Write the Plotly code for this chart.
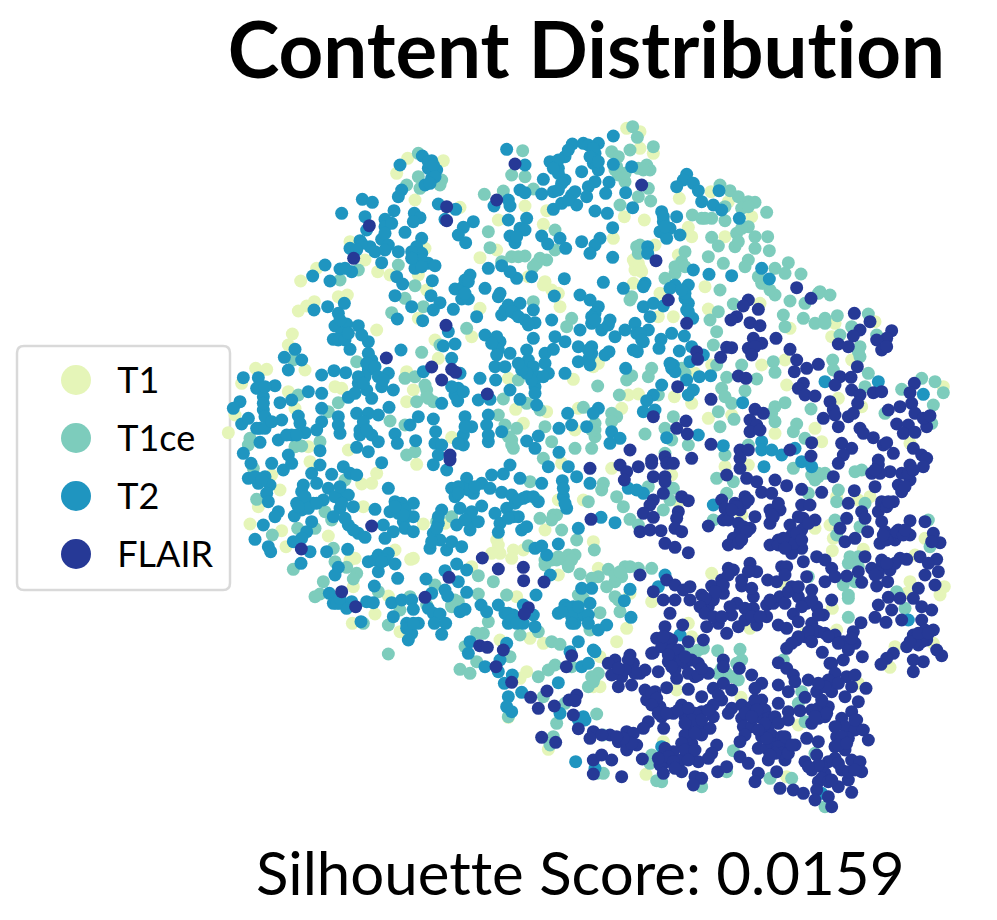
import plotly.graph_objects as go

# Embedding points in four tiles (units: 1/3 px inside each tile)
TILES = {"nw": (225, 120), "ne": (585, 120), "sw": (225, 460), "se": (585, 460)}

t1_nw = [(548,115),(655,122),(515,160),(570,240),(705,262),(900,258),(965,272),(955,313),(820,300),(375,365),(275,445),(227,483),(458,455),(495,465),(420,420),(580,465),(600,385),(765,413),(815,390),(910,470),(955,495),(1000,520),(1005,560),(340,530),(367,525),(268,545),(220,573),(245,558),(455,630),(202,642),(190,675),(240,750),(125,748),(92,745),(50,790),(630,660),(545,755),(565,810),(545,845),(330,800),(350,805),(190,815),(210,865),(30,885),(10,938),(250,980),(370,990),(680,952),(872,868),(965,875),(850,775),(895,910),(1045,778),(1060,865),(1050,930),(740,650),(765,565),(580,595),(605,510),(640,715),(960,485),(980,510)]
t1_ne = [(125,25),(165,35),(165,85),(205,100),(118,290),(178,300),(283,235),(310,322),(320,350),(420,350),(85,355),(378,215),(430,245),(500,290),(210,375),(160,430),(150,450),(280,405),(360,500),(145,490),(225,520),(370,567),(525,550),(265,590),(220,590),(600,720),(605,795),(130,825),(160,822),(268,830),(320,850),(110,865),(370,895),(330,760),(440,885),(740,650),(750,610),(870,605),(800,720),(830,860),(760,835),(690,925),(710,965),(570,940),(615,625),(380,735),(1075,800),(975,970),(25,740),(40,730),(530,735),(150,430),(165,445),(170,455),(145,420)]
t1_sw = [(75,192),(100,140),(165,90),(170,212),(183,260),(310,228),(375,300),(385,380),(490,408),(450,462),(382,490),(525,515),(557,298),(565,295),(595,192),(415,140),(440,70),(455,40),(410,72),(255,5),(575,13),(820,255),(865,270),(860,295),(825,280),(800,280),(915,535),(955,550),(905,635),(885,655),(850,772),(970,868),(825,540),(1000,120),(1010,10),(960,210),(1000,345),(1075,120),(845,405),(875,410),(140,45),(510,270),(815,240),(660,190),(390,295),(740,320),(895,270)]
t1_se = [(490,15),(420,20),(80,25),(260,45),(25,245),(40,325),(45,590),(45,680),(95,545),(135,400),(200,425),(125,505),(310,490),(320,530),(380,340),(275,690),(468,712),(640,795),(235,845),(183,943),(605,950),(495,505),(660,520),(755,510),(735,195),(690,205),(745,235),(742,272),(835,268),(990,285),(1020,235),(975,365),(1078,380),(1065,405),(965,400),(930,560),(1045,550),(915,622),(820,670),(742,445),(855,110),(820,120),(755,110),(470,165),(595,370),(280,125),(25,680)]

t1ce_nw = [(580,100),(893,92),(860,165),(900,170),(650,180),(580,170),(545,195),(585,205),(645,195),(778,223),(835,213),(925,207),(790,335),(795,383),(900,408),(860,410),(830,425),(965,420),(935,430),(990,330),(990,390),(520,435),(570,497),(345,480),(400,450),(540,535),(500,578),(595,560),(725,625),(925,545),(1040,595),(1025,620),(590,697),(395,725),(540,775),(570,770),(605,810),(575,845),(625,845),(610,835),(220,825),(340,848),(310,875),(75,955),(70,975),(210,980),(230,978),(285,965),(495,903),(540,915),(545,1005),(570,995),(820,885),(840,915),(860,960),(865,985),(875,925),(960,920),(980,965),(1050,985),(1075,862),(880,780),(835,837),(905,850),(945,870),(955,1015),(205,720),(645,675),(860,975),(850,950),(605,830),(600,795),(945,415),(925,440),(880,410)]
t1ce_ne = [(143,20),(157,52),(80,95),(205,80),(135,90),(100,110),(185,135),(195,150),(100,165),(120,185),(190,205),(197,243),(105,255),(160,230),(405,195),(435,212),(460,230),(490,245),(510,247),(470,265),(545,277),(322,285),(350,295),(380,295),(420,302),(490,320),(455,340),(510,350),(548,350),(450,380),(380,352),(400,378),(370,410),(415,430),(510,385),(490,420),(553,392),(570,445),(610,428),(600,460),(648,462),(520,470),(540,490),(570,525),(615,543),(705,515),(735,525),(660,550),(757,587),(655,595),(690,610),(720,595),(595,585),(600,620),(850,582),(765,645),(875,645),(825,680),(825,710),(743,720),(745,750),(850,760),(565,725),(570,757),(470,735),(515,777),(425,772),(410,805),(440,850),(480,812),(600,848),(570,860),(570,905),(635,912),(625,935),(400,575),(375,600),(395,635),(385,675),(445,552),(160,400),(155,380),(165,375),(300,395),(290,425),(270,460),(240,475),(405,510),(140,530),(135,540),(395,735),(200,745),(190,770),(125,780),(140,767),(38,798),(103,825),(220,825),(290,745),(300,760),(400,875),(405,920),(447,898),(1010,775),(1050,785),(1075,818),(950,808),(1045,855),(1040,910),(900,880),(840,800),(678,867),(660,955),(80,880),(95,890),(30,910),(30,950),(180,942),(265,890),(240,925),(260,960),(310,975),(420,1005),(490,975),(240,1000),(20,985),(800,620),(270,440),(300,440),(480,440),(555,510),(530,490),(160,145),(175,150),(120,160),(90,150),(95,140),(460,365),(470,325),(820,695),(720,610),(700,520),(420,260),(490,260),(360,295),(420,830),(560,880),(30,930),(20,930),(80,905)]
t1ce_sw = [(85,25),(95,118),(205,328),(295,365),(285,402),(395,340),(385,357),(365,322),(330,305),(218,205),(142,225),(270,205),(325,265),(415,490),(490,495),(490,582),(460,395),(525,450),(555,410),(605,435),(630,375),(680,440),(690,420),(760,347),(805,365),(760,402),(845,405),(790,485),(755,520),(775,520),(885,525),(940,515),(980,545),(1005,553),(910,257),(995,300),(1020,300),(960,315),(1050,285),(985,165),(945,175),(1010,210),(1055,240),(1065,342),(1060,405),(1075,415),(705,628),(735,640),(755,605),(855,590),(720,560),(940,650),(970,630),(990,615),(1040,620),(995,790),(985,830),(975,855),(850,770),(955,710),(1020,730),(680,170),(635,185),(360,60),(915,65),(935,120),(680,435),(270,410),(300,155),(320,180),(1030,285),(1000,290),(1040,300),(980,300),(1030,320),(960,300),(995,165),(980,180),(700,425),(690,440)]
t1ce_se = [(625,25),(680,45),(700,50),(720,40),(810,35),(830,30),(760,90),(670,100),(55,70),(50,90),(115,140),(95,110),(190,80),(265,85),(255,120),(235,150),(395,55),(445,65),(425,100),(385,180),(135,178),(160,195),(28,270),(10,125),(755,125),(840,130),(750,180),(755,225),(825,200),(795,290),(790,310),(820,290),(775,375),(810,365),(790,405),(790,415),(790,472),(935,395),(960,445),(1035,260),(1030,180),(70,328),(120,320),(135,320),(160,325),(200,325),(110,350),(90,365),(65,380),(40,350),(20,355),(90,410),(100,420),(105,455),(45,458),(15,510),(40,640),(20,650),(10,680),(320,575),(355,565),(398,572),(465,568),(470,600),(455,610),(400,640),(425,640),(460,660),(280,580),(35,762),(55,825),(35,940),(55,940),(200,885),(195,910),(215,962),(230,965),(350,980),(445,872),(425,935),(555,955),(620,955),(640,730),(660,785),(690,880),(720,1040),(650,695),(820,320),(595,600),(670,350),(940,405),(90,345),(105,335),(700,40),(690,60),(340,570),(330,580),(300,575),(410,625),(440,650),(30,650),(25,665)]

t2_nw = [(845,88),(592,108),(620,122),(525,135),(610,145),(635,150),(620,175),(600,195),(530,210),(520,230),(412,238),(442,247),(507,272),(420,290),(480,298),(568,280),(585,293),(565,305),(640,252),(692,268),(660,298),(745,305),(715,322),(700,345),(722,368),(540,337),(590,355),(470,358),(425,330),(405,362),(375,385),(435,380),(490,375),(520,395),(575,380),(590,400),(570,445),(610,430),(630,437),(470,428),(345,447),(380,455),(300,435),(263,468),(315,483),(515,470),(533,492),(622,482),(510,527),(618,527),(560,560),(645,548),(625,570),(685,568),(517,597),(593,602),(358,550),(308,560),(267,570),(340,580),(330,618),(365,612),(400,617),(325,658),(375,688),(430,665),(440,720),(178,712),(210,688),(230,720),(190,750),(528,690),(655,678),(690,672),(680,715),(670,635),(595,755),(705,760),(765,775),(812,780),(855,810),(760,840),(795,838),(885,838),(935,855),(930,800),(900,740),(1020,760),(960,700),(985,688),(905,690),(905,735),(925,655),(780,645),(825,665),(855,700),(820,690),(810,740),(840,740),(755,590),(830,585),(885,550),(925,570),(870,580),(930,608),(980,600),(990,650),(1020,665),(1065,630),(1060,680),(1060,725),(780,505),(825,520),(850,555),(690,507),(735,465),(715,500),(710,537),(730,537),(920,470),(875,475),(830,437),(855,455),(790,445),(1018,476),(988,528),(1065,525),(850,300),(905,295),(885,325),(870,368),(855,348),(950,348),(968,372),(1005,355),(1022,385),(1070,365),(985,268),(1010,250),(1055,255),(1040,225),(975,125),(1000,145),(1020,110),(1042,72),(1075,70),(1070,155),(1020,180),(955,178),(950,222),(985,215),(885,210),(900,218),(850,240),(855,258),(807,258),(900,135),(55,773),(100,773),(150,797),(95,805),(115,830),(45,845),(25,865),(115,870),(165,848),(200,840),(250,815),(290,820),(290,765),(327,752),(362,758),(290,865),(290,905),(220,888),(225,910),(170,900),(50,912),(70,895),(105,925),(160,960),(200,945),(240,938),(275,930),(105,967),(55,1000),(190,1005),(285,992),(340,890),(340,915),(345,940),(395,880),(430,880),(460,885),(405,930),(440,945),(460,965),(395,982),(430,995),(510,942),(517,970),(572,962),(555,915),(580,890),(625,897),(632,935),(630,970),(650,975),(640,1005),(720,890),(740,920),(715,945),(715,975),(790,885),(785,915),(830,935),(790,965),(905,963),(940,948),(930,985),(1002,997),(1002,925),(1040,915),(1028,880),(650,850),(492,862),(505,810),(440,835),(370,832),(400,790),(390,820),(425,810),(470,800),(490,760),(430,750),(700,805),(690,825),(698,843)]
t2_nw_clumps = [(610,125),(625,135),(630,170),(615,190),(480,320),(500,310),(480,340),(410,370),(395,390),(450,395),(560,395),(590,420),(560,415),(360,445),(720,480),(730,485),(720,520),(820,530),(840,570),(860,575),(880,590),(900,600),(910,615),(345,600),(350,640),(340,660),(360,660),(370,640),(410,645),(430,700),(425,730),(450,740),(420,770),(400,770),(415,790),(460,770),(475,780),(120,800),(115,850),(120,890),(95,925),(120,925),(140,905),(185,945),(215,945),(910,720),(925,740),(940,770),(930,820),(920,780),(905,760),(890,750),(960,730),(970,760),(955,770),(880,730),(1000,160),(1010,190),(1000,120),(1030,90),(1050,215),(1030,240),(985,145),(1000,210),(405,945),(415,905),(425,930),(790,945),(720,920),(700,970),(815,650),(800,670),(815,705),(680,800),(715,815),(900,330),(875,350),(350,280),(590,440),(480,390)]
t2_ne = [(85,48),(40,70),(10,75),(30,100),(25,130),(40,150),(85,133),(140,140),(72,187),(30,185),(10,200),(62,220),(122,218),(5,230),(143,263),(30,273),(67,280),(83,323),(230,275),(235,305),(275,290),(255,325),(225,335),(285,345),(245,355),(305,163),(295,180),(275,200),(325,190),(340,212),(350,245),(402,212),(385,255),(410,270),(463,295),(45,355),(30,375),(15,400),(83,412),(188,380),(188,400),(325,450),(372,463),(440,467),(530,445),(553,477),(55,487),(115,505),(180,490),(175,500),(270,495),(310,495),(255,505),(300,535),(310,550),(305,570),(323,595),(175,560),(205,550),(235,558),(195,590),(150,610),(190,630),(175,665),(155,640),(120,630),(90,650),(50,630),(70,615),(40,560),(30,580),(20,610),(15,540),(260,640),(228,658),(298,648),(222,685),(283,693),(320,680),(145,690),(157,695),(72,695),(60,705),(20,680),(12,715),(15,735),(122,745),(265,735),(260,745),(270,755),(315,725),(355,705),(343,770),(377,767),(305,780),(230,795),(325,810),(310,825),(205,825),(185,842),(210,870),(175,875),(40,865),(25,880),(5,920),(80,935),(105,955),(75,970),(245,953),(340,945),(473,848),(530,965),(530,990),(560,990),(590,1005),(415,977),(720,785),(880,785),(1015,823),(630,985),(25,85),(30,120),(15,110),(40,125),(235,290),(240,320),(300,520),(290,510),(310,575),(165,640),(170,660),(20,590),(30,600),(255,730),(75,600),(20,700),(10,690)]
t2_sw = [(78,10),(140,10),(175,30),(200,10),(70,55),(100,70),(120,50),(135,75),(125,100),(130,125),(260,40),(285,15),(320,43),(235,75),(275,70),(230,95),(310,85),(355,20),(375,40),(395,45),(350,100),(370,105),(295,120),(215,130),(240,130),(265,130),(230,150),(208,168),(160,155),(150,170),(115,195),(260,185),(245,215),(230,235),(205,245),(255,275),(228,310),(90,238),(130,260),(137,275),(305,275),(368,268),(450,148),(385,140),(345,145),(325,170),(370,195),(400,220),(420,232),(470,8),(490,85),(510,125),(530,130),(565,130),(495,155),(520,160),(565,170),(535,185),(540,205),(565,215),(505,215),(480,235),(475,195),(650,150),(640,190),(625,220),(615,265),(645,240),(665,270),(680,245),(710,260),(695,195),(705,145),(740,155),(770,138),(735,185),(760,185),(735,210),(625,14),(665,30),(725,55),(770,70),(795,85),(680,85),(715,85),(745,100),(690,110),(800,45),(835,42),(855,15),(885,55),(830,97),(860,105),(895,115),(950,70),(940,125),(905,110),(810,160),(845,145),(880,170),(825,190),(820,217),(890,210),(905,200),(970,20),(1030,20),(1055,50),(1012,62),(1015,110),(1025,145),(1060,205),(930,265),(965,285),(1000,252),(950,258),(430,305),(460,285),(490,280),(480,300),(510,312),(460,335),(340,322),(330,345),(518,355),(603,357),(448,378),(313,400),(325,430),(345,430),(380,425),(365,445),(425,425),(445,428),(500,428),(530,420),(560,420),(565,448),(505,470),(408,485),(545,490),(580,490),(560,520),(550,540),(620,400),(610,445),(625,460),(645,462),(628,490),(662,490),(650,523),(660,332),(695,312),(725,330),(700,365),(660,390),(668,408),(725,397),(705,455),(720,448),(768,435),(785,455),(820,435),(840,460),(865,465),(850,490),(895,490),(925,465),(895,435),(933,405),(930,500),(976,345),(1070,385),(1000,460),(1020,435),(1045,440),(1070,465),(1050,490),(1060,545),(1035,575),(1000,668),(780,620),(735,545),(730,580),(845,550),(825,600),(820,635),(838,670),(862,645),(850,710),(845,740),(860,755),(890,697),(1005,760),(1052,905),(1070,620),(1075,770),(1060,780)]
t2_sw_clumps = [(90,50),(110,60),(240,110),(250,145),(220,140),(275,130),(330,110),(345,80),(350,130),(360,175),(385,210),(520,145),(540,150),(535,165),(510,140),(640,170),(635,205),(620,245),(730,90),(700,80),(750,80),(700,100),(735,165),(720,180),(865,170),(850,175),(870,130),(880,120),(925,110),(1015,85),(1020,130),(1030,445),(1040,470),(1060,440),(1040,490),(850,460),(860,480),(875,490),(450,300),(470,305),(335,430),(345,415),(545,505),(565,490),(1010,455)]
t2_se = [(537,20),(650,5),(680,20),(15,70),(130,85),(175,100),(155,90),(385,135),(48,172),(90,188),(285,525),(240,345),(220,380),(20,385),(135,388),(118,422),(15,430),(10,465),(10,490),(138,472),(65,495),(40,510),(25,570),(10,610),(30,575),(970,480),(30,925),(230,860),(710,1000),(0,780)]

flair_nw = [(870,132),(815,240),(665,260),(665,302),(433,317),(386,415),(663,616),(484,714),(620,741),(680,748),(692,757),(650,780),(787,822),(675,1005)]
flair_ne = [(170,195),(213,422),(250,540),(305,610),(635,503),(678,535),(490,540),(475,558),(455,590),(438,600),(520,568),(495,608),(525,617),(808,580),(855,605),(825,630),(805,648),(920,632),(905,655),(875,660),(890,690),(905,680),(760,672),(790,680),(573,655),(505,655),(530,670),(490,685),(510,680),(500,705),(425,682),(440,683),(407,712),(335,695),(338,718),(615,688),(635,720),(628,755),(665,745),(700,733),(817,740),(765,770),(798,772),(750,795),(460,768),(483,775),(278,800),(378,838),(655,790),(640,805),(660,825),(690,828),(800,810),(825,825),(818,850),(865,818),(890,815),(735,845),(745,870),(510,868),(535,880),(495,900),(515,915),(495,935),(525,930),(205,890),(303,903),(275,925),(307,942),(378,973),(715,895),(750,885),(790,890),(805,880),(760,920),(825,925),(835,940),(865,953),(910,870),(945,860),(980,850),(990,880),(935,912),(970,915),(955,940),(990,937),(1025,920),(1015,895),(1035,887),(988,790),(975,818),(895,975),(905,968),(925,1000),(770,970),(800,985),(775,1005),(680,968),(615,990),(135,990),(465,990),(490,990),(465,1015),(985,985),(1010,1005),(1025,1015),(678,1008),(240,1010),(320,1015),(880,1020),(200,1020)]
flair_sw = [(440,198),(229,267),(350,395),(392,440),(600,412),(672,352),(772,294),(820,327),(895,322),(896,362),(957,366),(910,443),(898,462),(764,557),(787,562),(835,570),(813,620),(860,667),(917,712),(940,745),(966,693),(988,738),(1024,620),(1040,587),(1032,720),(1055,705),(1050,722),(1045,765),(1060,806),(950,832),(992,847),(675,0)]
flair_se = [(15,25),(105,15),(160,20),(200,10),(125,35),(118,60),(205,50),(245,10),(265,10),(240,50),(240,65),(235,100),(205,120),(195,135),(290,110),(310,122),(280,155),(175,160),(205,172),(275,175),(270,205),(290,215),(165,215),(195,210),(228,212),(240,250),(270,262),(310,278),(18,178),(370,198),(425,45),(465,25),(485,55),(515,65),(570,60),(605,77),(530,97),(560,100),(650,88),(710,97),(760,10),(745,50),(480,110),(450,130),(410,120),(420,145),(465,150),(510,170),(415,180),(430,180),(460,190),(465,215),(495,205),(445,235),(430,255),(460,250),(555,150),(585,150),(565,170),(555,190),(615,195),(650,135),(675,135),(655,175),(690,180),(650,210),(620,225),(580,240),(555,255),(605,250),(640,240),(650,265),(620,280),(655,305),(695,290),(720,300),(740,325),(720,365),(750,350),(785,348),(820,335),(830,367),(840,290),(860,40),(880,15),(915,35),(975,15),(1015,20),(870,80),(940,75),(975,60),(950,95),(808,92),(790,130),(830,155),(840,175),(785,175),(765,205),(780,245),(810,235),(848,215),(890,125),(925,125),(880,155),(890,185),(975,182),(1020,185),(1045,220),(1065,248),(1040,245),(940,210),(900,215),(885,250),(975,225),(930,240),(860,325),(890,320),(915,330),(945,295),(965,298),(1005,290),(1055,298),(1030,310),(1060,335),(1020,345),(1050,375),(1000,385),(875,378),(908,365),(910,412),(880,435),(945,415),(985,415),(920,450),(950,480),(870,472),(903,487),(1010,440),(1040,450),(1010,480),(1045,510),(985,525),(1000,555),(965,560),(1025,540),(1055,570),(1070,587),(1015,605),(985,600),(985,635),(925,580),(905,595),(888,613),(165,345),(245,360),(270,375),(315,380),(295,390),(205,395),(235,420),(270,420),(315,420),(350,405),(380,378),(370,440),(385,420),(415,400),(430,325),(445,330),(410,360),(470,378),(495,310),(515,335),(548,360),(575,365),(505,410),(440,465),(455,430),(505,445),(545,435),(565,430),(545,470),(590,320),(605,320),(600,345),(585,410),(620,380),(640,410),(665,350),(680,390),(600,430),(625,462),(665,430),(695,440),(740,420),(715,465),(680,490),(580,495),(605,505),(635,540),(605,565),(660,530),(700,515),(750,525),(775,545),(805,515),(810,550),(712,577),(832,590),(828,488),(255,460),(240,500),(293,495),(365,500),(355,540),(400,490),(425,520),(460,500),(515,495),(310,545),(215,535),(260,540),(240,555),(205,578),(135,585),(90,600),(70,610),(145,610),(165,640),(110,650),(80,645),(100,680),(140,675),(220,635),(275,655),(270,600),(250,605),(300,610),(320,600),(340,610),(370,640),(330,650),(415,600),(415,620),(463,625),(500,645),(580,608),(605,625),(625,645),(630,665),(580,675),(610,695),(670,660),(695,695),(745,670),(735,610),(775,600),(785,650),(810,645),(800,680),(843,685),(820,725),(780,710),(740,695),(660,712),(245,683),(310,688),(385,685),(415,670),(440,690),(530,670),(510,685),(530,720),(180,690),(210,695),(185,720),(350,710),(225,740),(290,735),(410,720),(385,735),(350,755),(440,745),(470,735),(500,740),(580,730),(540,750),(610,755),(645,752),(230,770),(265,760),(300,770),(330,760),(385,770),(470,775),(520,770),(550,775),(610,780),(700,745),(730,740),(700,775),(720,770),(680,790),(800,755),(770,775),(815,780),(780,800),(810,810),(835,810),(755,830),(790,835),(850,840),(190,785),(175,805),(236,805),(320,800),(345,800),(375,805),(25,815),(75,825),(15,835),(50,825),(125,815),(100,845),(145,820),(155,855),(125,870),(300,825),(350,825),(320,850),(290,850),(395,855),(475,800),(500,800),(550,800),(560,825),(590,830),(630,855),(480,825),(465,845),(520,865),(545,865),(600,860),(665,835),(700,845),(750,860),(780,870),(235,885),(265,875),(320,880),(380,880),(245,905),(225,915),(290,900),(290,935),(340,905),(370,895),(235,940),(398,935),(425,920),(465,890),(490,910),(550,900),(600,900),(520,940),(575,935),(510,965),(660,905),(695,885),(750,895),(800,900),(825,905),(830,935),(680,930),(720,940),(770,930),(790,960),(700,965),(760,980),(695,990),(800,997),(585,985),(625,990),(655,1000),(330,950),(350,955),(325,975),(172,897),(25,900),(50,885),(80,900),(25,942),(110,950),(690,1020),(730,1010),(740,1040),(640,485),(200,580),(180,630),(310,640),(340,645)]
flair_se_clumps = [(430,345),(415,375),(390,395),(360,415),(345,440),(360,460),(385,470),(410,470),(435,440),(480,445),(480,480),(500,470),(525,470),(470,360),(490,335),(500,385),(555,420),(610,395),(650,440),(640,380),(680,420),(700,465),(690,510),(670,515),(720,520),(730,530),(640,530),(620,550),(680,545),(760,550),(790,570),(800,535),(740,610),(750,640),(730,660),(760,670),(720,680),(700,670),(250,535),(230,560),(260,570),(280,570),(250,585),(270,630),(290,600),(260,620),(300,590),(235,530),(350,625),(130,600),(150,640),(120,630),(100,625),(200,700),(215,715),(200,735),(220,760),(245,760),(280,750),(310,745),(320,780),(300,790),(330,820),(350,780),(370,750),(400,705),(430,760),(510,720),(515,750),(480,760),(500,770),(540,790),(570,770),(580,790),(530,830),(560,850),(580,860),(600,830),(590,880),(570,880),(545,835),(520,810),(555,885),(610,880),(620,855),(710,720),(680,750),(725,760),(690,770),(750,800),(770,830),(810,780),(760,855),(785,850),(730,905),(710,920),(760,910),(710,955),(730,965),(740,960),(790,935),(810,930),(700,915),(670,920),(240,865),(250,890),(265,905),(220,895),(270,925),(300,870),(330,870),(310,900),(140,850),(115,835),(95,830),(915,230),(935,215),(955,225),(905,240),(895,225),(960,210),(880,340),(870,345),(930,310),(890,300),(905,310),(1010,545),(990,545),(1020,510),(975,545),(1000,520),(1030,520),(890,135),(905,140),(910,125),(580,130),(560,165),(640,170),(670,190),(625,250),(635,220),(650,240),(580,255),(595,235),(600,265),(480,130),(490,120),(455,140),(440,150),(475,200),(485,215),(470,240),(950,40),(970,40),(985,30),(960,80),(885,40),(870,30)]

categories = ["T1", "T1ce", "T2", "FLAIR"]
colors = ["#e5f5b8", "#7dccbc", "#1f95c0", "#263996"]
legend_x = [0, 0, 0, 0]
title_text = "Content Distribution"
score_text = "Silhouette Score: 0.0159"

series = {
    "T1": [("nw", t1_nw), ("ne", t1_ne), ("sw", t1_sw), ("se", t1_se)],
    "T1ce": [("nw", t1ce_nw), ("ne", t1ce_ne), ("sw", t1ce_sw), ("se", t1ce_se)],
    "T2": [("nw", t2_nw), ("nw", t2_nw_clumps), ("ne", t2_ne), ("sw", t2_sw), ("sw", t2_sw_clumps), ("se", t2_se)],
    "FLAIR": [("nw", flair_nw), ("ne", flair_ne), ("sw", flair_sw), ("se", flair_se), ("se", flair_se_clumps)],
}

W, H = 997, 920
FONT = "Lato"
fig = go.Figure()

for name, color in zip(categories, colors):
    xs, ys = [], []
    for tile, pts in series[name]:
        ox, oy = TILES[tile]
        xs += [ox + p[0] / 3 for p in pts]
        ys += [oy + p[1] / 3 for p in pts]
    fig.add_trace(go.Scatter(x=xs, y=ys, mode="markers", name=name, showlegend=False,
                             marker=dict(color=color, size=13, line=dict(width=0)),
                             xaxis="x", yaxis="y"))

# Legend drawn as a small categorical subplot so its markers can be as large as the reference's
fig.add_trace(go.Scatter(x=legend_x, y=categories, mode="markers", showlegend=False,
                         marker=dict(color=colors, size=30, line=dict(width=0)),
                         xaxis="x2", yaxis="y2"))

fig.update_layout(
    width=W, height=H, margin=dict(l=0, r=0, t=0, b=0, pad=0),
    paper_bgcolor="white", plot_bgcolor="rgba(0,0,0,0)",
    font=dict(family=FONT, color="black"),
    xaxis=dict(domain=[0, 1], range=[0, W], visible=False),
    yaxis=dict(domain=[0, 1], range=[H, 0], visible=False),
    xaxis2=dict(domain=[49 / W, 103 / W], range=[-1, 1], visible=False, anchor="y2"),
    yaxis2=dict(domain=[(H - 583) / H, (H - 351) / H], anchor="x2", side="right",
                type="category", categoryorder="array", categoryarray=categories,
                range=[3.5, -0.5], showgrid=False, zeroline=False, showline=False,
                ticks="outside", ticklen=6, tickcolor="rgba(0,0,0,0)",
                tickfont=dict(family=FONT, size=36, color="black")),
    shapes=[dict(type="path", xref="x", yref="y", layer="below",
                 path="M 24 346 L 223 346 Q 230 346 230 353 L 230 583 Q 230 590 223 590 "
                      "L 24 590 Q 17 590 17 583 L 17 353 Q 17 346 24 346 Z",
                 fillcolor="white", line=dict(color="#d9d9d9", width=2.5))],
    annotations=[
        dict(text=f"<b>{title_text}</b>", xref="paper", yref="paper", x=586 / W, y=1 - 48 / H,
             xanchor="center", yanchor="middle", showarrow=False,
             font=dict(family=FONT, size=78, color="black")),
        dict(text=score_text, xref="paper", yref="paper", x=580 / W, y=1 - 872 / H,
             xanchor="center", yanchor="middle", showarrow=False,
             font=dict(family=FONT, size=60, color="black")),
    ],
)

fig.write_html(
    "out.html",
    config={"displayModeBar": False},
    post_script="document.body.style.margin='0';"
                "var s=document.createElement('style');"
                "s.textContent='text{font-variant-ligatures:none;font-feature-settings:\"liga\" 0;}';"
                "document.head.appendChild(s);",
)
